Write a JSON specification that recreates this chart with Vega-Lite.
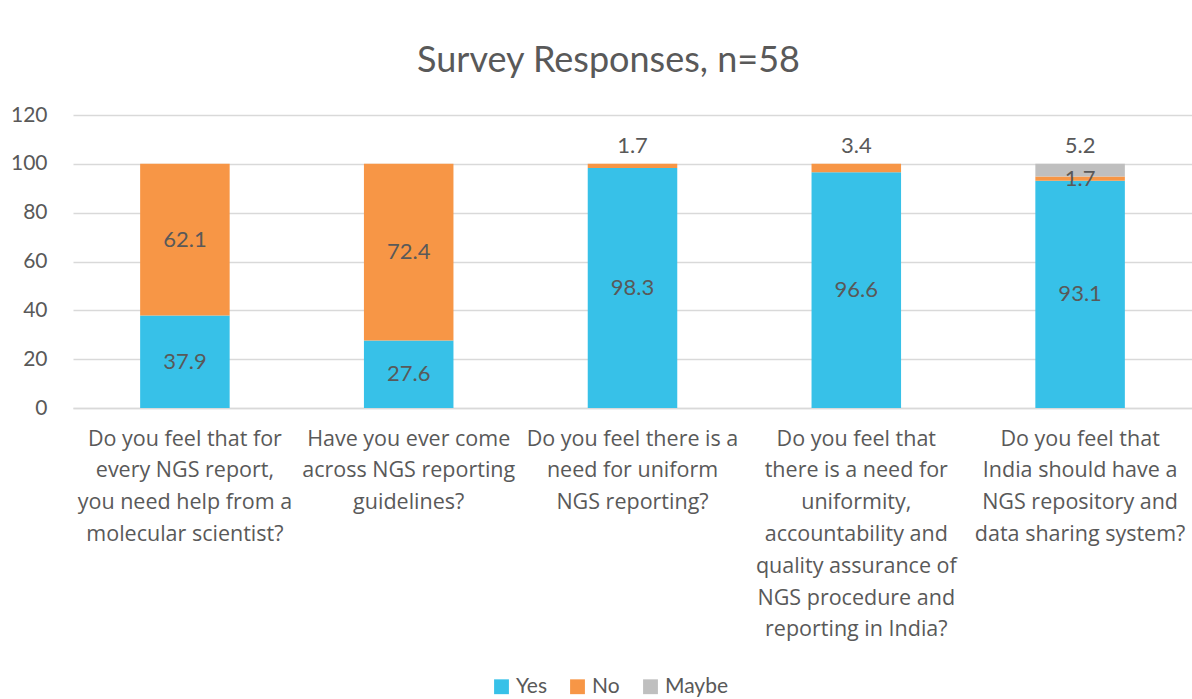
{
  "$schema": "https://vega.github.io/schema/vega-lite/v6.json",
  "autosize": "none",
  "width": 1119,
  "height": 293,
  "padding": {"left": 73, "top": 115, "right": 0, "bottom": 291},
  "background": "white",
  "config": {
    "font": "Lato",
    "view": {"stroke": null},
    "axis": {"labelColor": "#595959", "labelFont": "Lato", "labelFontSize": 21, "ticks": false}
  },
  "title": {
    "text": "Survey Responses, n=58",
    "fontSize": 36,
    "fontWeight": "normal",
    "color": "#595959",
    "anchor": "middle",
    "offset": 24,
    "dx": -24
  },
  "data": {
    "values": [
      {"q": "Do you feel that for\nevery NGS report,\nyou need help from a\nmolecular scientist?", "resp": "Yes", "value": 37.9},
      {"q": "Do you feel that for\nevery NGS report,\nyou need help from a\nmolecular scientist?", "resp": "No", "value": 62.1},
      {"q": "Have you ever come\nacross NGS reporting\nguidelines?", "resp": "Yes", "value": 27.6},
      {"q": "Have you ever come\nacross NGS reporting\nguidelines?", "resp": "No", "value": 72.4},
      {"q": "Do you feel there is a\nneed for uniform\nNGS reporting?", "resp": "Yes", "value": 98.3},
      {"q": "Do you feel there is a\nneed for uniform\nNGS reporting?", "resp": "No", "value": 1.7},
      {"q": "Do you feel that\nthere is a need for\nuniformity,\naccountability and\nquality assurance of\nNGS procedure and\nreporting in India?", "resp": "Yes", "value": 96.6},
      {"q": "Do you feel that\nthere is a need for\nuniformity,\naccountability and\nquality assurance of\nNGS procedure and\nreporting in India?", "resp": "No", "value": 3.4},
      {"q": "Do you feel that\nIndia should have a\nNGS repository and\ndata sharing system?", "resp": "Yes", "value": 93.1},
      {"q": "Do you feel that\nIndia should have a\nNGS repository and\ndata sharing system?", "resp": "No", "value": 1.7},
      {"q": "Do you feel that\nIndia should have a\nNGS repository and\ndata sharing system?", "resp": "Maybe", "value": 5.2}
    ]
  },
  "transform": [
    {"calculate": "indexof(['Yes','No','Maybe'], datum.resp)", "as": "ord"},
    {"stack": "value", "groupby": ["q"], "sort": [{"field": "ord", "order": "ascending"}], "as": ["y0", "y1"]},
    {"calculate": "(datum.y1 >= 99.9 && datum.value < 6) ? datum.y1 + 7.5 : (datum.y0 + datum.y1) / 2", "as": "labelY"}
  ],
  "encoding": {
    "x": {
      "field": "q",
      "type": "nominal",
      "sort": null,
      "scale": {"paddingInner": 0.6, "paddingOuter": 0.3},
      "axis": {
        "title": null,
        "labelAngle": 0,
        "labelExpr": "split(datum.label, '\\n')",
        "labelLimit": 0,
        "labelFont": "Open Sans",
        "labelFontSize": 21.5,
        "labelLineHeight": 31.8,
        "labelPadding": 20,
        "labelBaseline": "top",
        "domain": true,
        "domainColor": "#D9D9D9",
        "domainWidth": 1.5,
        "grid": false
      }
    }
  },
  "layer": [
    {
      "mark": {"type": "bar"},
      "encoding": {
        "y": {
          "field": "y1",
          "type": "quantitative",
          "scale": {"domain": [0, 120]},
          "axis": {
            "title": null,
            "values": [0, 20, 40, 60, 80, 100, 120],
            "domain": false,
            "gridColor": "#D9D9D9",
            "gridWidth": 1.5,
            "labelPadding": 26
          }
        },
        "y2": {"field": "y0"},
        "color": {
          "field": "resp",
          "type": "nominal",
          "sort": ["Yes", "No", "Maybe"],
          "scale": {"domain": ["Yes", "No", "Maybe"], "range": ["#37C1E8", "#F79646", "#BFBFBF"]},
          "legend": {
            "title": null,
            "orient": "none",
            "direction": "horizontal",
            "legendX": 418,
            "legendY": 561,
            "symbolType": "square",
            "symbolSize": 220,
            "symbolStrokeWidth": 0,
            "labelFontSize": 21,
            "labelColor": "#595959",
            "columnPadding": 20,
            "labelOffset": 4
          }
        }
      }
    },
    {
      "mark": {"type": "text", "fontSize": 22, "color": "#595959", "baseline": "middle"},
      "encoding": {
        "y": {"field": "labelY", "type": "quantitative"},
        "text": {"field": "value", "type": "quantitative", "format": ".1f"}
      }
    }
  ]
}
